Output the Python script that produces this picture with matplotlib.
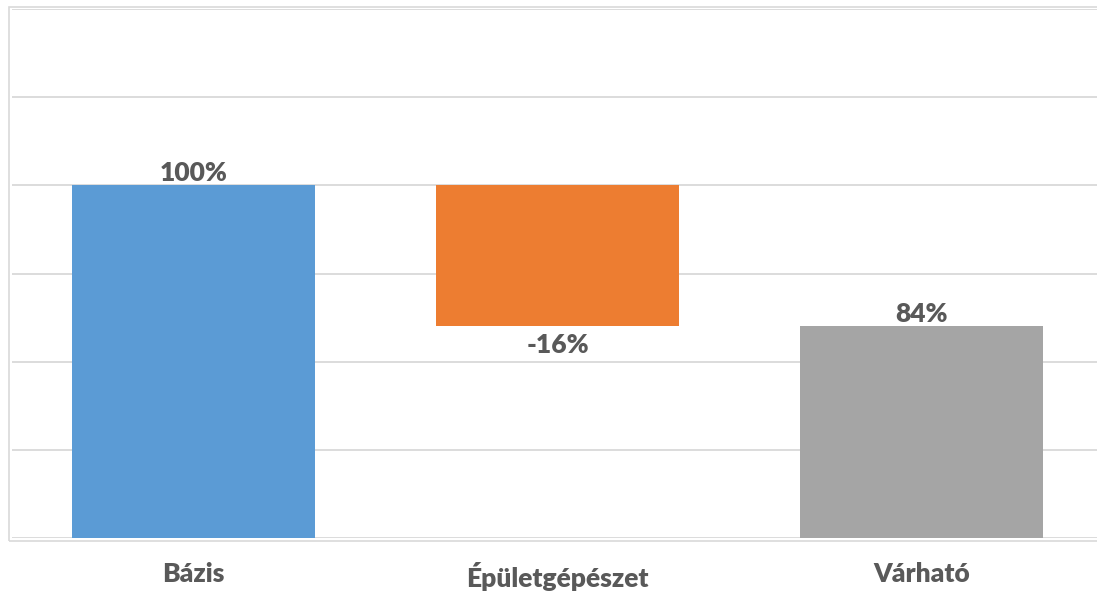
import matplotlib.pyplot as plt
from matplotlib.patches import Rectangle

categories = ['Bázis', 'Épületgépészet', 'Várható']
changes = [100, -16, 84]
is_total = [True, False, True]
colors = ['#5B9BD5', '#ED7D31', '#A5A5A5']

# waterfall: totals start at 0, steps hang from the running sum
bottoms = []
heights = []
running = 0
for val, tot in zip(changes, is_total):
    if tot:
        bottoms.append(0)
        heights.append(val)
        running = val
    else:
        new = running + val
        bottoms.append(min(running, new))
        heights.append(abs(val))
        running = new

W, H = 1097, 592
fig = plt.figure(figsize=(W / 100, H / 100), dpi=100)
ax = fig.add_axes([11.5 / W, (H - 538) / H, (1104 - 11.5) / W, (538 - 9) / H])

x = range(len(categories))
ax.bar(x, heights, bottom=bottoms, width=0.667, color=colors, zorder=3)

txt = dict(fontsize=19, fontweight='heavy', color='#595959', family='Lato')

ax.set_xlim(-0.5, 2.5)
ax.set_ylim(60, 120)
ax.set_yticks(range(60, 121, 10))
ax.yaxis.grid(True, color='#d9d9d9', lw=1.3, zorder=0)
ax.tick_params(axis='y', left=False, labelleft=False)
ax.tick_params(axis='x', bottom=False, pad=14)
ax.set_xticks(list(x))
ax.set_xticklabels(categories, **txt)
for s in ax.spines.values():
    s.set_visible(False)

# data labels
for i, (val, tot) in enumerate(zip(changes, is_total)):
    top = bottoms[i] + heights[i]
    if val >= 0:
        ax.text(i, top, f'{val}%', ha='center', va='bottom', **txt)
    else:
        ax.text(i, bottoms[i] - 0.8, f'{val}%', ha='center', va='top', **txt)

# chart-area border
fig.patches.append(Rectangle((9 / W, (H - 541) / H), 1.0, (541 - 7) / H,
                             transform=fig.transFigure, fill=False,
                             ec='#d9d9d9', lw=1.2))

fig.savefig('out.png', dpi=100)
